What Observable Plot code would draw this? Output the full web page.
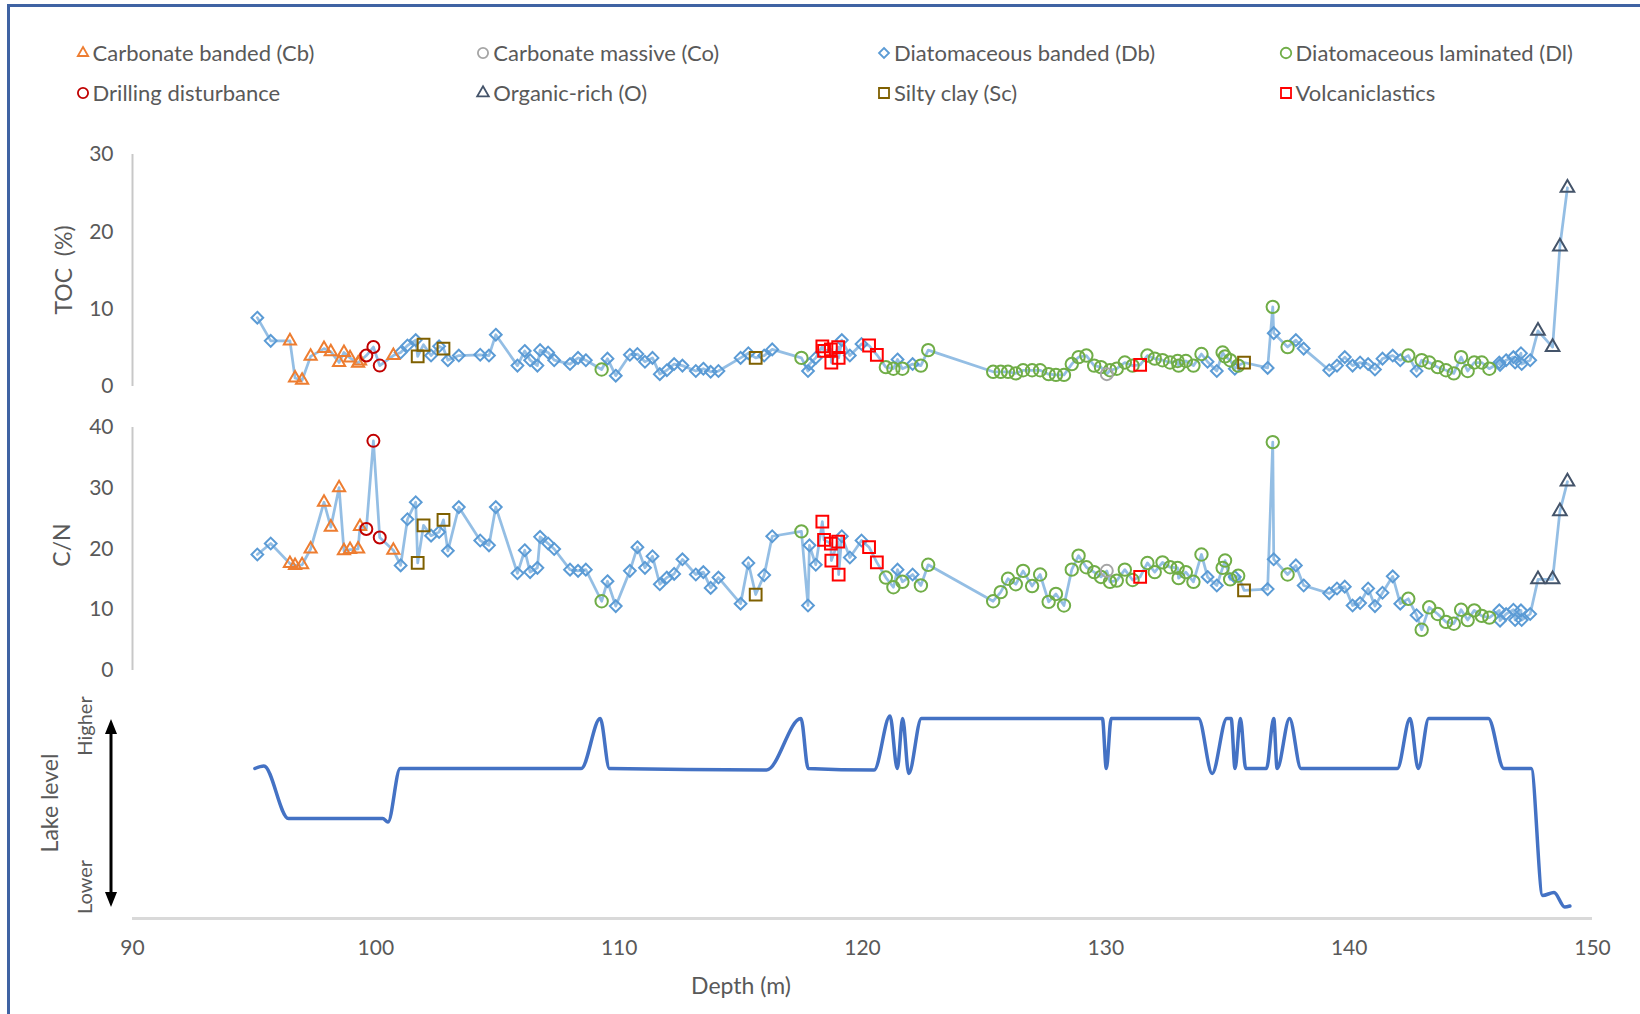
<!DOCTYPE html>
<html>
<head>
<meta charset="utf-8">
<script src="https://cdn.jsdelivr.net/npm/d3@7"></script>
<script src="https://cdn.jsdelivr.net/npm/@observablehq/plot@0.6"></script>
<style>
  html, body { margin: 0; padding: 0; background: #fff; }
  #root { position: relative; width: 1640px; height: 1014px; overflow: hidden; font-family: Lato, "Open Sans", sans-serif; color: #595959; }
  #root > svg.plotsvg { position: absolute; left: 0; }
  .frameLine { position: absolute; background: #3f63a3; }
  .lbl { position: absolute; white-space: pre; transform: translate(-50%, -50%); line-height: 1; }
  .rot { transform: translate(-50%, -50%) rotate(-90deg); }
  .leg { position: absolute; display: flex; align-items: center; white-space: pre; font-size: 22px; line-height: 1; }
  .leg svg { margin-right: 1px; }
</style>
</head>
<body>
<div id="root"></div>
<script>
// ---------------- DATA ----------------
const lithKeys  = ["Cb", "Co", "Db", "Dl", "DD", "O", "Sc", "Vc"];
const lithNames = ["Carbonate banded (Cb)", "Carbonate massive (Co)", "Diatomaceous banded (Db)", "Diatomaceous laminated (Dl)",
                   "Drilling disturbance", "Organic-rich (O)", "Silty clay (Sc)", "Volcaniclastics"];

const depth = [
  95.13, 95.68, 96.47, 96.68, 96.97, 97.32, 97.87, 98.15, 98.49, 98.69,
  98.94, 99.27, 99.35, 99.61, 99.9, 100.16, 100.72, 101.02, 101.3, 101.64,
  101.72, 101.96, 102.27, 102.6, 102.78, 102.96, 103.41, 104.29, 104.65, 104.93,
  105.82, 106.12, 106.34, 106.64, 106.75, 107.08, 107.33, 107.98, 108.31, 108.63,
  109.28, 109.52, 109.86, 110.44, 110.75, 111.06, 111.37, 111.67, 111.96, 112.26,
  112.6, 113.15, 113.46, 113.76, 114.08, 114.99, 115.31, 115.61, 115.96, 116.29,
  117.49, 117.76, 117.82, 118.08, 118.35, 118.42, 118.7, 118.72, 119.0, 119.02,
  119.15, 119.48, 119.96, 120.27, 120.59, 120.96, 121.27, 121.44, 121.64, 122.06,
  122.4, 122.7, 125.37, 125.68, 125.98, 126.3, 126.6, 126.97, 127.3, 127.65,
  127.95, 128.28, 128.6, 128.88, 129.2, 129.52, 129.8, 130.04, 130.17, 130.45,
  130.78, 131.1, 131.41, 131.71, 132.01, 132.33, 132.64, 132.95, 132.99, 133.29,
  133.6, 133.93, 134.18, 134.56, 134.8, 134.9, 135.11, 135.3, 135.44, 135.68,
  136.65, 136.86, 136.9, 137.47, 137.81, 138.13, 139.18, 139.5, 139.82, 140.14,
  140.45, 140.78, 141.06, 141.37, 141.79, 142.1, 142.43, 142.77, 142.98, 143.29,
  143.64, 143.98, 144.3, 144.6, 144.87, 145.14, 145.45, 145.76, 146.17, 146.2,
  146.45, 146.75, 146.82, 147.06, 147.09, 147.44, 147.76, 148.36, 148.66, 148.97
];
const lith = [
  "Db","Db","Cb","Cb","Cb","Cb","Cb","Cb","Cb","Cb",
  "Cb","Cb","Cb","DD","DD","DD","Cb","Db","Db","Db",
  "Sc","Sc","Db","Db","Sc","Db","Db","Db","Db","Db",
  "Db","Db","Db","Db","Db","Db","Db","Db","Db","Db",
  "Dl","Db","Db","Db","Db","Db","Db","Db","Db","Db",
  "Db","Db","Db","Db","Db","Db","Db","Sc","Db","Db",
  "Dl","Db","Db","Db","Vc","Vc","Vc","Vc","Vc","Vc",
  "Db","Db","Db","Vc","Vc","Dl","Dl","Db","Dl","Db",
  "Dl","Dl","Dl","Dl","Dl","Dl","Dl","Dl","Dl","Dl",
  "Dl","Dl","Dl","Dl","Dl","Dl","Dl","Co","Dl","Dl",
  "Dl","Dl","Vc","Dl","Dl","Dl","Dl","Dl","Dl","Dl",
  "Dl","Dl","Db","Db","Dl","Dl","Dl","Db","Dl","Sc",
  "Db","Dl","Db","Dl","Db","Db","Db","Db","Db","Db",
  "Db","Db","Db","Db","Db","Db","Dl","Db","Dl","Dl",
  "Dl","Dl","Dl","Dl","Dl","Dl","Dl","Dl","Db","Db",
  "Db","Db","Db","Db","Db","Db","O","O","O","O"
];
const toc = [
  8.9, 5.9, 5.9, 1.1, 0.8, 3.9, 4.9, 4.5, 3.1, 4.4,
  3.7, 3.0, 3.3, 4.0, 5.1, 2.7, 4.0, 4.4, 5.3, 6.0,
  3.9, 5.4, 4.0, 5.2, 4.9, 3.4, 4.0, 4.1, 4.0, 6.7,
  2.7, 4.6, 3.4, 2.7, 4.7, 4.4, 3.4, 2.9, 3.7, 3.4,
  2.2, 3.6, 1.4, 4.1, 4.2, 3.2, 3.7, 1.6, 2.1, 2.9,
  2.7, 2.0, 2.3, 1.9, 2.0, 3.7, 4.3, 3.7, 4.0, 4.8,
  3.7, 2.0, 2.9, 3.7, 5.2, 4.6, 4.8, 3.1, 5.1, 3.7,
  6.0, 4.0, 5.5, 5.3, 4.1, 2.5, 2.3, 3.5, 2.3, 2.9,
  2.7, 4.7, 1.9, 1.9, 1.9, 1.7, 2.1, 2.1, 2.1, 1.6,
  1.5, 1.5, 2.9, 3.8, 4.0, 2.7, 2.5, 1.6, 2.1, 2.3,
  3.1, 2.7, 2.8, 4.0, 3.6, 3.4, 3.1, 3.3, 2.7, 3.3,
  2.7, 4.2, 3.2, 2.0, 4.4, 3.9, 3.4, 2.3, 2.7, 3.1,
  2.4, 10.3, 6.9, 5.1, 6.0, 4.9, 2.1, 2.7, 3.8, 2.7,
  3.1, 2.9, 2.2, 3.6, 4.0, 3.4, 4.0, 2.0, 3.4, 3.1,
  2.5, 2.1, 1.7, 3.8, 2.0, 3.1, 3.1, 2.3, 3.1, 2.8,
  3.4, 3.8, 3.1, 4.3, 2.9, 3.4, 7.2, 5.1, 18.1, 25.7
];
const cn = [
  19.1, 20.9, 17.6, 17.3, 17.4, 20.0, 27.7, 23.6, 30.1, 19.7,
  19.9, 20.0, 23.7, 23.3, 37.8, 21.9, 19.8, 17.3, 24.9, 27.7,
  17.7, 23.9, 22.2, 22.8, 24.8, 19.7, 26.9, 21.4, 20.6, 26.9,
  16.0, 19.8, 16.2, 16.9, 22.0, 20.9, 20.0, 16.6, 16.4, 16.6,
  11.4, 14.7, 10.6, 16.4, 20.3, 16.9, 18.8, 14.2, 15.3, 15.9,
  18.3, 15.8, 16.2, 13.6, 15.3, 11.0, 17.7, 12.5, 15.7, 22.1,
  22.9, 10.7, 20.6, 17.4, 24.5, 21.5, 20.9, 18.1, 21.2, 15.8,
  22.1, 18.6, 21.4, 20.3, 17.8, 15.3, 13.7, 16.6, 14.6, 15.8,
  14.0, 17.4, 11.4, 12.9, 15.1, 14.2, 16.4, 13.9, 15.8, 11.3,
  12.6, 10.7, 16.6, 18.9, 17.0, 16.2, 15.4, 16.4, 14.6, 14.8,
  16.6, 14.9, 15.4, 17.7, 16.2, 17.8, 17.0, 16.9, 15.2, 16.2,
  14.6, 19.1, 15.4, 14.0, 16.9, 18.1, 15.0, 15.4, 15.6, 13.2,
  13.4, 37.6, 18.3, 15.8, 17.3, 14.0, 12.7, 13.5, 13.8, 10.7,
  11.1, 13.5, 10.6, 12.8, 15.5, 11.0, 11.8, 9.1, 6.7, 10.4,
  9.3, 8.0, 7.7, 10.0, 8.3, 9.9, 9.0, 8.7, 9.9, 8.2,
  9.3, 10.0, 8.3, 9.9, 8.3, 9.3, 15.0, 15.0, 26.2, 31.1
];

// Lake level (qualitative: 2 = lower, 3 = intermediate, 4 = higher)
const lakeDepth = [
  95.03, 95.4, 96.41, 100.28, 100.5, 101.0, 108.44, 109.22, 109.6, 116.06,
  117.47, 117.77, 120.48, 121.13, 121.43, 121.65, 121.9, 122.42, 129.86, 130.02,
  130.22, 133.81, 134.37, 134.97, 135.15, 135.31, 135.53, 135.75, 136.6, 136.9,
  137.04, 137.55, 138.02, 141.98, 142.5, 142.84, 143.27, 145.72, 146.36, 147.48,
  147.95, 148.42, 148.86, 149.07
];
const lakeLevel = [
  3.0, 3.05, 2.0, 2.0, 1.93, 3.0, 3.0, 4.0, 3.0, 2.97,
  4.0, 3.0, 2.97, 4.05, 3.0, 4.0, 2.9, 4.0, 4.0, 3.0,
  4.0, 4.0, 2.9, 4.0, 4.0, 3.0, 4.0, 3.0, 3.0, 4.0,
  3.0, 4.0, 3.0, 3.0, 4.0, 3.0, 4.0, 4.0, 3.0, 3.0,
  0.46, 0.52, 0.23, 0.25
];

const xTicks = [90, 100, 110, 120, 130, 140, 150];
const tocTicks = [0, 10, 20, 30];
const cnTicks = [0, 10, 20, 30, 40];

// ---------------- STYLE ----------------
const markerStyle = {
  Cb: {symbol: "triangle2", stroke: "#ed7d31", r: 5.8},
  Co: {symbol: "circle",    stroke: "#a5a5a5", r: 6},
  Db: {symbol: "diamond2",  stroke: "#5b9bd5", r: 5.3},
  Dl: {symbol: "circle",    stroke: "#70ad47", r: 6.2},
  DD: {symbol: "circle",    stroke: "#c00000", r: 6},
  O:  {symbol: "triangle2", stroke: "#44546a", r: 6.5},
  Sc: {symbol: "square2",   stroke: "#7f6000", r: 7.5},
  Vc: {symbol: "square2",   stroke: "#ff0000", r: 7.5}
};
const drawOrder = ["Db", "Dl", "Co", "Cb", "DD", "O", "Sc", "Vc"];
const FONT = "Lato, 'Open Sans', sans-serif";

const samples = depth.map((d, i) => ({depth: d, lith: lith[i], toc: toc[i], cn: cn[i]}));
const lake = lakeDepth.map((d, i) => ({depth: d, level: lakeLevel[i]}));

const root = document.getElementById("root");

function baseOpts(extra) {
  return Object.assign({
    width: 1640,
    marginLeft: 132,
    marginRight: 48,
    style: {fontFamily: FONT, fontSize: "21px", color: "#595959", background: "transparent", overflow: "visible"}
  }, extra);
}

function dotMarks(field) {
  return drawOrder.map(k => Plot.dot(samples.filter(d => d.lith === k), {
    x: "depth", y: field, symbol: markerStyle[k].symbol, r: markerStyle[k].r,
    stroke: markerStyle[k].stroke, strokeWidth: 2, fill: "none"
  }));
}

function place(svg, top) {
  svg.classList.add("plotsvg");
  svg.style.position = "absolute";
  svg.style.top = top + "px";
  svg.style.left = "0px";
  root.appendChild(svg);
}

// TOC panel
const tocPlot = Plot.plot(baseOpts({
  height: 270, marginTop: 24, marginBottom: 14,
  x: {domain: [90, 150], axis: null},
  y: {domain: [0, 30], axis: null},
  marks: [
    Plot.axisY({ticks: tocTicks, tickSize: 0, tickPadding: 19, label: null}),
    Plot.ruleX([90], {y1: 0, y2: 30, stroke: "#c8c8c8", strokeWidth: 2}),
    Plot.line(samples, {x: "depth", y: "toc", stroke: "#5b9bd5", strokeOpacity: 0.65, strokeWidth: 2.75}),
    ...dotMarks("toc")
  ]
}));
place(tocPlot, 130);

// C/N panel
const cnPlot = Plot.plot(baseOpts({
  height: 280, marginTop: 22, marginBottom: 15,
  x: {domain: [90, 150], axis: null},
  y: {domain: [0, 40], axis: null},
  marks: [
    Plot.axisY({ticks: cnTicks, tickSize: 0, tickPadding: 19, label: null}),
    Plot.ruleX([90], {y1: 0, y2: 40, stroke: "#c8c8c8", strokeWidth: 2}),
    Plot.line(samples, {x: "depth", y: "cn", stroke: "#5b9bd5", strokeOpacity: 0.65, strokeWidth: 2.75}),
    ...dotMarks("cn")
  ]
}));
place(cnPlot, 405);

// Lake level panel
const lakePlot = Plot.plot(baseOpts({
  height: 324, marginTop: 28, marginBottom: 96,
  x: {domain: [90, 150]},
  y: {domain: [0, 4], axis: null},
  marks: [
    Plot.ruleY([0], {stroke: "#d9d9d9", strokeWidth: 3}),
    Plot.axisX({ticks: xTicks, tickSize: 0, tickPadding: 22, label: null, tickFormat: d => String(d)}),
    Plot.line(lake, {x: "depth", y: "level", curve: "monotone-x", stroke: "#4472c4", strokeWidth: 3.5})
  ]
}));
place(lakePlot, 690);

// ---------------- TEXT / DECORATION ----------------
function addLabel(text, cx, cy, size, rotate) {
  const d = document.createElement("div");
  d.className = "lbl" + (rotate ? " rot" : "");
  d.textContent = text;
  d.style.left = cx + "px";
  d.style.top = cy + "px";
  d.style.fontSize = size + "px";
  root.appendChild(d);
}
addLabel("TOC  (%)", 63, 270, 23, true);
addLabel("C/N", 61, 545, 23, true);
addLabel("Lake level", 49, 803, 23, true);
addLabel("Higher", 84, 726, 20, true);
addLabel("Lower", 84, 887, 20, true);
addLabel("Depth (m)", 741, 985, 23, false);

// double arrow for lake level
const ns = "http://www.w3.org/2000/svg";
const arr = document.createElementNS(ns, "svg");
arr.setAttribute("width", 30); arr.setAttribute("height", 200);
arr.style.position = "absolute"; arr.style.left = "96px"; arr.style.top = "715px";
arr.innerHTML = '<line x1="15" y1="14" x2="15" y2="178" stroke="#000" stroke-width="3"/>' +
  '<polygon points="15,4 9,19 21,19" fill="#000"/>' +
  '<polygon points="15,192 9,177 21,177" fill="#000"/>';
root.appendChild(arr);

// frame lines
const fTop = document.createElement("div");
fTop.className = "frameLine";
Object.assign(fTop.style, {left: "8px", top: "4px", width: "1640px", height: "2.5px"});
root.appendChild(fTop);
const fLeft = document.createElement("div");
fLeft.className = "frameLine";
Object.assign(fLeft.style, {left: "7px", top: "4px", width: "2.5px", height: "1020px"});
root.appendChild(fLeft);

// legend
const legCols = [82.6, 483.3, 884, 1285.6];
const legRows = [53, 93];
lithKeys.forEach((k, i) => {
  const col = i % 4, row = Math.floor(i / 4);
  const st = markerStyle[k];
  const symMap = {circle: d3.symbolCircle, diamond2: d3.symbolDiamond2, triangle2: d3.symbolTriangle2, square2: d3.symbolSquare2};
  const r = st.r * 0.85;
  const path = d3.symbol(symMap[st.symbol], Math.PI * r * r)();
  const item = document.createElement("div");
  item.className = "leg";
  item.style.left = (legCols[col] - 9) + "px";
  item.style.top = (legRows[row] - 12) + "px";
  item.style.height = "24px";
  item.innerHTML = `<svg width="18" height="18" viewBox="-9 -9 18 18"><path d="${path}" fill="none" stroke="${st.stroke}" stroke-width="1.8"/></svg><span>${lithNames[i]}</span>`;
  root.appendChild(item);
});
</script>
</body>
</html>
